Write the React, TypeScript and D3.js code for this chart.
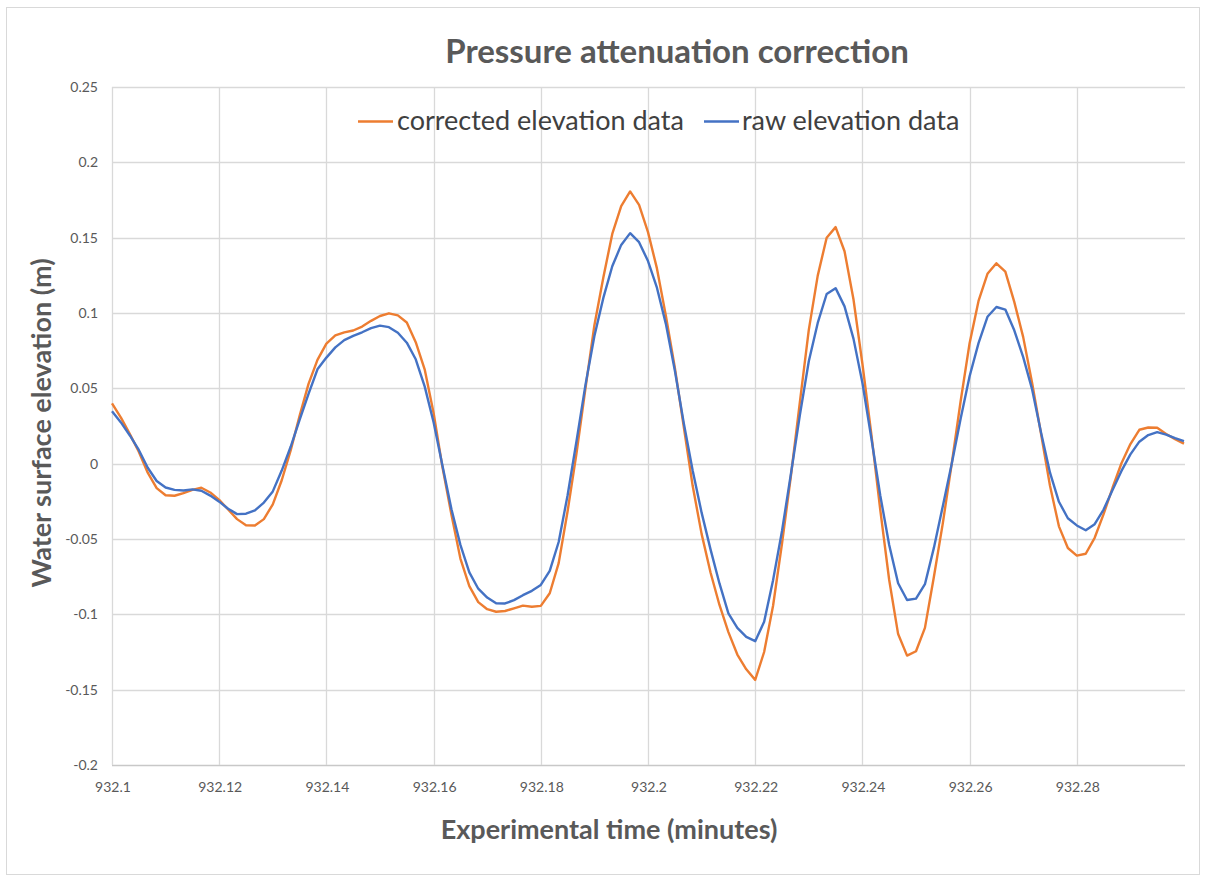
import React from "react";
import * as d3 from "d3";

// ---- Data ----
const START_TIME = 932.1; // minutes
const SAMPLE_STEP = 1 / 600; // 0.1 s in minutes

const correctedElevation = [
  0.040, 0.0306, 0.0196, 0.0079, -0.006, -0.0162, -0.021, -0.0213, -0.0195, -0.0174,
  -0.016, -0.0191, -0.024, -0.0304, -0.0368, -0.0409, -0.041, -0.0368, -0.027, -0.011,
  0.0088, 0.0317, 0.053, 0.0689, 0.0797, 0.0851, 0.0871, 0.0884, 0.091, 0.0948,
  0.098, 0.0998, 0.0984, 0.0937, 0.0806, 0.0626, 0.0337, -0.0026, -0.034, -0.063,
  -0.0813, -0.0919, -0.0966, -0.0983, -0.0978, -0.096, -0.0942, -0.095, -0.0944, -0.086,
  -0.066, -0.0316, 0.0071, 0.05, 0.0919, 0.1236, 0.1525, 0.171, 0.1807, 0.1718,
  0.1537, 0.1296, 0.0982, 0.0639, 0.0247, -0.0147, -0.0466, -0.0722, -0.0938, -0.1118,
  -0.1267, -0.1365, -0.1435, -0.125, -0.0943, -0.053, -0.008, 0.0408, 0.0888, 0.1248,
  0.150, 0.157, 0.141, 0.1091, 0.0663, 0.0196, -0.0306, -0.0772, -0.1131, -0.1274,
  -0.1245, -0.109, -0.0752, -0.0396, 0.0, 0.0416, 0.080, 0.108, 0.126, 0.133,
  0.1275, 0.1074, 0.084, 0.0535, 0.0197, -0.0147, -0.0416, -0.056, -0.061, -0.0598,
  -0.0492, -0.0335, -0.016, 0.0003, 0.013, 0.0225, 0.024, 0.0238, 0.0197, 0.0163,
  0.0133,
];

const rawElevation = [
  0.0348, 0.0274, 0.0187, 0.0091, -0.0027, -0.0115, -0.0158, -0.0174, -0.0178, -0.0171,
  -0.018, -0.0212, -0.0252, -0.0299, -0.0335, -0.0332, -0.031, -0.0258, -0.0184, -0.0046,
  0.0112, 0.029, 0.0463, 0.0626, 0.0704, 0.0772, 0.082, 0.0848, 0.0872, 0.090,
  0.0916, 0.0906, 0.0869, 0.0803, 0.0693, 0.0513, 0.0275, -0.0016, -0.0302, -0.0539,
  -0.0722, -0.083, -0.0889, -0.0927, -0.0928, -0.0906, -0.0873, -0.0844, -0.0805, -0.0712,
  -0.052, -0.021, 0.015, 0.0523, 0.0847, 0.110, 0.131, 0.1452, 0.153, 0.147,
  0.1345, 0.1168, 0.0928, 0.062, 0.0271, -0.0045, -0.0325, -0.0569, -0.0795, -0.0994,
  -0.109, -0.115, -0.1178, -0.105, -0.0773, -0.0447, -0.0067, 0.0322, 0.068, 0.0934,
  0.1126, 0.1165, 0.1044, 0.083, 0.0537, 0.017, -0.0211, -0.054, -0.0794, -0.0905,
  -0.0896, -0.080, -0.0559, -0.0282, 0.0, 0.030, 0.058, 0.080, 0.0975, 0.104,
  0.1023, 0.0885, 0.0707, 0.0493, 0.0206, -0.006, -0.0253, -0.0362, -0.041, -0.0442,
  -0.0402, -0.0305, -0.0175, -0.0048, 0.0062, 0.0146, 0.019, 0.0209, 0.0193, 0.0169,
  0.015,
];

const xTicks = [932.1, 932.12, 932.14, 932.16, 932.18, 932.2, 932.22, 932.24, 932.26, 932.28];
const xTickLabels = ["932.1", "932.12", "932.14", "932.16", "932.18", "932.2", "932.22", "932.24", "932.26", "932.28"];
const yTicks = [-0.2, -0.15, -0.1, -0.05, 0, 0.05, 0.1, 0.15, 0.2, 0.25];
const yTickLabels = ["-0.2", "-0.15", "-0.1", "-0.05", "0", "0.05", "0.1", "0.15", "0.2", "0.25"];

const seriesNames = ["corrected elevation data", "raw elevation data"];
const seriesColors = ["#ED7D31", "#4472C4"];

const W = 1205;
const H = 880;
const FONT = "Lato, 'Open Sans', sans-serif";

export default function App() {
  const x = d3.scaleLinear().domain([932.1, 932.3]).range([112, 1184]);
  const y = d3.scaleLinear().domain([-0.2, 0.25]).range([765, 87]);

  const toPoints = (vals: number[]) =>
    vals.map((v, i) => [START_TIME + i * SAMPLE_STEP, v] as [number, number]);

  const line = d3
    .line<[number, number]>()
    .x((d) => x(d[0]))
    .y((d) => y(d[1]));

  const series = [correctedElevation, rawElevation];

  return (
    <svg
      width={W}
      height={H}
      style={{ position: "absolute", left: 0, top: 0, background: "#fff" }}
      fontFamily={FONT}
    >
      <rect x={0} y={0} width={W} height={H} fill="#fff" />
      <rect x={6.5} y={7.5} width={1193} height={867} fill="#fff" stroke="#d9d9d9" strokeWidth={1} />

      {/* horizontal gridlines */}
      {yTicks.map((t) => (
        <line
          key={"h" + t}
          x1={x(932.1)}
          x2={x(932.3) + 1}
          y1={Math.round(y(t)) + 0.5}
          y2={Math.round(y(t)) + 0.5}
          stroke={t === -0.2 ? "#c8c8c8" : "#d9d9d9"}
          strokeWidth={1.3}
        />
      ))}
      {/* vertical gridlines */}
      {xTicks.map((t) => (
        <line
          key={"v" + t}
          x1={Math.round(x(t)) + 0.5}
          x2={Math.round(x(t)) + 0.5}
          y1={y(0.25)}
          y2={y(-0.2)}
          stroke="#d9d9d9"
          strokeWidth={1.3}
        />
      ))}

      {/* y tick labels */}
      {yTicks.map((t, i) => (
        <text
          key={"yl" + t}
          x={98}
          y={y(t) + 5}
          textAnchor="end"
          fontSize={14}
          fill="#595959"
        >
          {yTickLabels[i]}
        </text>
      ))}
      {/* x tick labels */}
      {xTicks.map((t, i) => (
        <text
          key={"xl" + t}
          x={x(t) + 1}
          y={792}
          textAnchor="middle"
          fontSize={14}
          fill="#595959"
        >
          {xTickLabels[i]}
        </text>
      ))}

      {/* series */}
      {series.map((vals, i) => (
        <path
          key={"s" + i}
          d={line(toPoints(vals)) || ""}
          fill="none"
          stroke={seriesColors[i]}
          strokeWidth={2.4}
          strokeLinejoin="round"
        />
      ))}

      {/* title */}
      <text x={677} y={63} textAnchor="middle" fontSize={33} fontWeight="bold" fill="#595959">
        Pressure attenuation correction
      </text>

      {/* legend */}
      <g>
        <line x1={358} x2={393} y1={121.5} y2={121.5} stroke={seriesColors[0]} strokeWidth={2.4} />
        <text x={397} y={130} fontSize={27} fill="#404040">
          {seriesNames[0]}
        </text>
        <line x1={704} x2={739} y1={121.5} y2={121.5} stroke={seriesColors[1]} strokeWidth={2.4} />
        <text x={742} y={130} fontSize={27} fill="#404040">
          {seriesNames[1]}
        </text>
      </g>

      {/* axis titles */}
      <text x={609} y={839} textAnchor="middle" fontSize={27} fontWeight="bold" fill="#595959">
        Experimental time (minutes)
      </text>
      <text
        transform={`translate(51, 423) rotate(-90)`}
        textAnchor="middle"
        fontSize={27}
        fontWeight="bold"
        fill="#595959"
      >
        Water surface elevation (m)
      </text>
    </svg>
  );
}
